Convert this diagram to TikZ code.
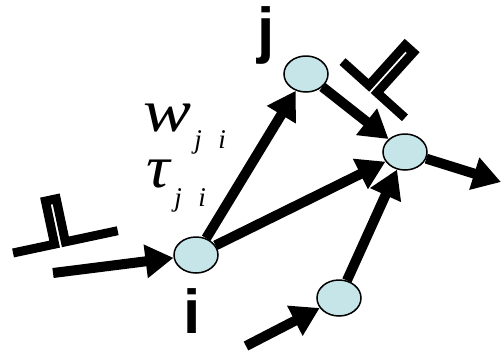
\documentclass[tikz,border=0pt]{standalone}
\usepackage{fontspec}
\setmainfont{Liberation Serif}
\newfontfamily\lsans{Liberation Sans}
\usetikzlibrary{arrows.meta,shapes.geometric,backgrounds}
\definecolor{cellfill}{HTML}{C5E5E8}
\begin{document}
\begin{tikzpicture}[x=1pt,y=-1pt,
  neuron/.style={ellipse, draw=black, line width=1.5pt, fill=cellfill, minimum width=44pt, minimum height=36pt, inner sep=0pt},
  syn/.style={line width=10pt, -{Triangle[length=28pt,width=32pt]}},
  pulse/.style={line width=9pt, line join=miter},
  lbl/.style={font=\lsans\bfseries\fontsize{62}{62}\selectfont, inner sep=0pt},
  sym/.style={font=\itshape\fontsize{60}{60}\selectfont, inner sep=0pt},
  subs/.style={font=\itshape\fontsize{27}{27}\selectfont, inner sep=0pt, anchor=base}]
\useasboundingbox (0,0) rectangle (501,354);
\node[neuron] (i) at (196,255) {};
\node[neuron] (j) at (306,74) {};
\node[neuron] (k) at (405,152) {};
\node[neuron] (l) at (339,298) {};
\coordinate (inI) at (53,273);
\coordinate (inL) at (246,346);
\coordinate (out) at (501,182);
\begin{scope}[on background layer]
\draw[syn] (inI) -- (i);
\draw[syn] (i) -- (j);
\draw[syn] (i) -- (k);
\draw[syn] (j) -- (k);
\draw[syn] (l) -- (k);
\draw[syn] (k) -- (out);
\draw[syn] (inL) -- (l);
\end{scope}
\draw[pulse, shift={(60,243)}, rotate=12] (-48,0) -- (-5.5,0) -- (-5.5,-44) -- (5.5,-44) -- (5.5,0) -- (59,0);
\draw[pulse, shift={(373,89)}, rotate=-42] (-41,0) -- (-5.5,0) -- (-5.5,-54) -- (5.5,-54) -- (5.5,0) -- (43,0);
\node[lbl] (labj) at (266,35) {j};
\node[lbl] (labi) at (192,311) {i};
\node[sym, xscale=1.2] (w) at (168,118) {w};
\node[sym, xscale=1.1] (tau) at (158,174) {τ};
\node[subs] (wj) at (198,148) {j};
\node[subs] (wi) at (222,148) {i};
\node[subs] (tj) at (178,206) {j};
\node[subs] (ti) at (202,206) {i};
\end{tikzpicture}
\end{document}
